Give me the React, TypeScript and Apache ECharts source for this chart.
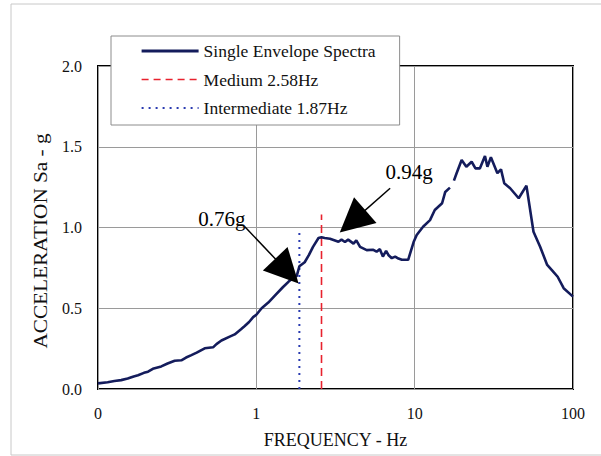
import React, { useEffect, useRef } from "react";
import * as echarts from "echarts";

// Response spectrum, frequency (Hz, log scale) vs spectral acceleration (g)
const freqHz = [
  0.1, 0.115, 0.127, 0.14, 0.154, 0.168, 0.179, 0.195, 0.207, 0.222, 0.251, 0.275,
  0.305, 0.336, 0.36, 0.389, 0.42, 0.472, 0.533, 0.56, 0.602, 0.679, 0.73, 0.8,
  0.845, 0.9, 0.955, 1.0, 1.08, 1.19, 1.3, 1.47, 1.6, 1.67, 1.8, 1.87, 2.02, 2.15,
  2.28, 2.47, 2.58, 2.7, 2.92, 3.3, 3.45, 3.63, 3.8, 4.11, 4.28, 4.52, 4.98, 5.48,
  5.75, 6.03, 6.3, 6.6, 6.82, 7.17, 7.53, 7.9, 8.3, 9.1, 9.85, 10.3, 11.3, 12.5,
  13.4, 14.9, 15.6, 16.7, 17.2, 17.7, 18.4, 19.8, 21.2, 22.9, 24.2, 25.8, 27.8,
  28.8, 30.3, 33.3, 35.1, 36.8, 40.1, 45.4, 50.8, 56.3, 62, 68.7, 74, 80, 87.3, 100,
];
const accelG: (number | null)[] = [
  0.035, 0.042, 0.05, 0.055, 0.065, 0.078, 0.085, 0.1, 0.107, 0.125, 0.14, 0.158,
  0.175, 0.178, 0.195, 0.21, 0.225, 0.252, 0.258, 0.278, 0.3, 0.324, 0.338, 0.37,
  0.39, 0.415, 0.445, 0.46, 0.5, 0.535, 0.575, 0.63, 0.665, 0.68, 0.7, 0.76, 0.785, 0.83,
  0.88, 0.935, 0.94, 0.935, 0.93, 0.912, 0.925, 0.91, 0.925, 0.9, 0.92, 0.88, 0.86, 0.862,
  0.85, 0.866, 0.82, 0.856, 0.83, 0.81, 0.82, 0.808, 0.8, 0.8, 0.91, 0.954, 1.005, 1.046,
  1.108, 1.15, 1.22, 1.247, null, 1.29, 1.336, 1.418, 1.376, 1.407, 1.366, 1.366, 1.443,
  1.376, 1.435, 1.336, 1.36, 1.274, 1.243, 1.181, 1.259, 0.974, 0.881, 0.768, 0.733, 0.695, 0.624, 0.572,
];

const envelopeName = "Single Envelope Spectra";
const mediumHz = 2.58;
const intermediateHz = 1.87;
const mediumName = "Medium 2.58Hz";
const intermediateName = "Intermediate 1.87Hz";
const mediumLineTop = 1.08;
const intermediateLineTop = 0.97;

const xTickLabels: Record<string, string> = { "0.1": "0", "1": "1", "10": "10", "100": "100" };
const yTicks = [0, 0.5, 1.0, 1.5, 2.0];

const FONT = "'Liberation Serif', 'Times New Roman', serif";

const NAVY = "#141c5c";
const RED = "#e8222e";
const BLUE = "#2a3bb0";

function accelAt(f: number): number {
  const i = freqHz.indexOf(f);
  return (accelG[i] as number) ?? 0;
}

export default function App() {
  const ref = useRef<HTMLDivElement>(null);

  useEffect(() => {
    if (!ref.current) return;
    const chart = echarts.init(ref.current, undefined, { renderer: "svg" });

    const envelopeData = freqHz.map((f, i) => [f, accelG[i] === null ? "-" : accelG[i]]);
    const labelIntermediate = `${accelAt(intermediateHz).toFixed(2)}g`;
    const labelMedium = `${accelAt(mediumHz).toFixed(2)}g`;

    const hiddenMarker = { color: "transparent", borderColor: "transparent", borderWidth: 0, opacity: 0 };

    chart.setOption({
      animation: false,
      backgroundColor: "#ffffff",
      textStyle: { fontFamily: FONT },
      grid: {
        left: 98,
        right: 28,
        top: 66,
        bottom: 67,
        show: true,
        borderColor: "#000000",
        borderWidth: 2,
        backgroundColor: "transparent",
      },
      legend: {
        left: 111,
        top: 36,
        orient: "vertical",
        backgroundColor: "#ffffff",
        borderColor: "#8c8c8c",
        borderWidth: 1,
        borderRadius: 0,
        padding: [6, 24, 8, 29],
        itemGap: 10.5,
        itemWidth: 57,
        itemHeight: 18,
        selectedMode: false,
        itemStyle: hiddenMarker,
        textStyle: { fontSize: 17.5, color: "#111111", fontFamily: FONT, lineHeight: 18 },
        data: [
          { name: envelopeName, itemStyle: hiddenMarker, lineStyle: { color: NAVY, width: 3.2, type: "solid" } },
          { name: mediumName, itemStyle: hiddenMarker, lineStyle: { color: RED, width: 1.4, type: [7, 5] } },
          { name: intermediateName, itemStyle: hiddenMarker, lineStyle: { color: BLUE, width: 1.8, type: [2, 5] } },
        ],
      },
      xAxis: {
        type: "log",
        logBase: 10,
        min: 0.1,
        max: 100,
        axisLine: { show: false },
        axisTick: { show: false },
        splitLine: { show: true, lineStyle: { color: "#9a9a9a", width: 1 } },
        axisLabel: {
          color: "#111111",
          fontSize: 16,
          fontFamily: FONT,
          margin: 16,
          formatter: (v: number) => xTickLabels[String(+v.toPrecision(3))] ?? String(v),
        },
        name: "FREQUENCY - Hz",
        nameLocation: "middle",
        nameGap: 42,
        nameTextStyle: { fontSize: 18, color: "#111111", fontFamily: FONT },
      },
      yAxis: {
        type: "value",
        min: yTicks[0],
        max: yTicks[yTicks.length - 1],
        interval: 0.5,
        axisLine: { show: false },
        axisTick: { show: false },
        splitLine: { show: true, lineStyle: { color: "#9a9a9a", width: 1 } },
        axisLabel: {
          color: "#111111",
          fontSize: 16,
          fontFamily: FONT,
          margin: 16,
          formatter: (v: number) => v.toFixed(1),
        },
      },
      graphic: [
        {
          type: "rect",
          silent: true,
          z: -10,
          shape: { x: 11, y: 4, width: 600, height: 451 },
          style: { fill: "none", stroke: "#c8c8c8", lineWidth: 1 },
        },
        {
          type: "text",
          silent: true,
          x: 41,
          y: 241,
          rotation: Math.PI / 2,
          scaleX: 1.18,
          style: {
            text: "ACCELERATION Sa - g",
            fontSize: 18,
            fontFamily: FONT,
            fill: "#111111",
            align: "center",
            verticalAlign: "middle",
          },
        },
      ],
      series: [
        {
          name: envelopeName,
          type: "line",
          data: envelopeData,
          showSymbol: false,
          symbol: "none",
          connectNulls: false,
          lineStyle: { color: NAVY, width: 2.6 },
          itemStyle: { color: NAVY },
          z: 3,
          markLine: {
            silent: true,
            symbol: ["none", "triangle"],
            symbolSize: 34,
            label: { show: false },
            lineStyle: { color: "#000000", width: 1.5, type: "solid" },
            itemStyle: { color: "#000000" },
            emphasis: { disabled: true },
            data: [
              [{ coord: [0.846, 1.005] }, { coord: [1.56, 0.73] }],
              [{ coord: [7.0, 1.243] }, { coord: [4.05, 1.038] }],
            ],
          },
          markPoint: {
            silent: true,
            symbol: "circle",
            symbolSize: 1,
            itemStyle: { color: "transparent" },
            label: {
              show: true,
              position: "inside",
              fontSize: 21,
              color: "#000000",
              fontFamily: FONT,
              formatter: (p: any) => p.name,
            },
            data: [
              { name: labelIntermediate, coord: [0.605, 1.053] },
              { name: labelMedium, coord: [9.23, 1.344] },
            ],
          },
        },
        {
          name: mediumName,
          type: "line",
          data: [
            [mediumHz, 0],
            [mediumHz, mediumLineTop],
          ],
          showSymbol: false,
          symbol: "none",
          lineStyle: { color: RED, width: 1.6, type: [8, 5] },
          itemStyle: { color: RED },
          z: 2,
        },
        {
          name: intermediateName,
          type: "line",
          data: [
            [intermediateHz, 0],
            [intermediateHz, intermediateLineTop],
          ],
          showSymbol: false,
          symbol: "none",
          lineStyle: { color: BLUE, width: 2, type: [2, 5] },
          itemStyle: { color: BLUE },
          z: 2,
        },
      ],
    });

    return () => chart.dispose();
  }, []);

  return (
    <div
      ref={ref}
      style={{ position: "absolute", left: 0, top: 0, width: 601, height: 456 }}
    />
  );
}
